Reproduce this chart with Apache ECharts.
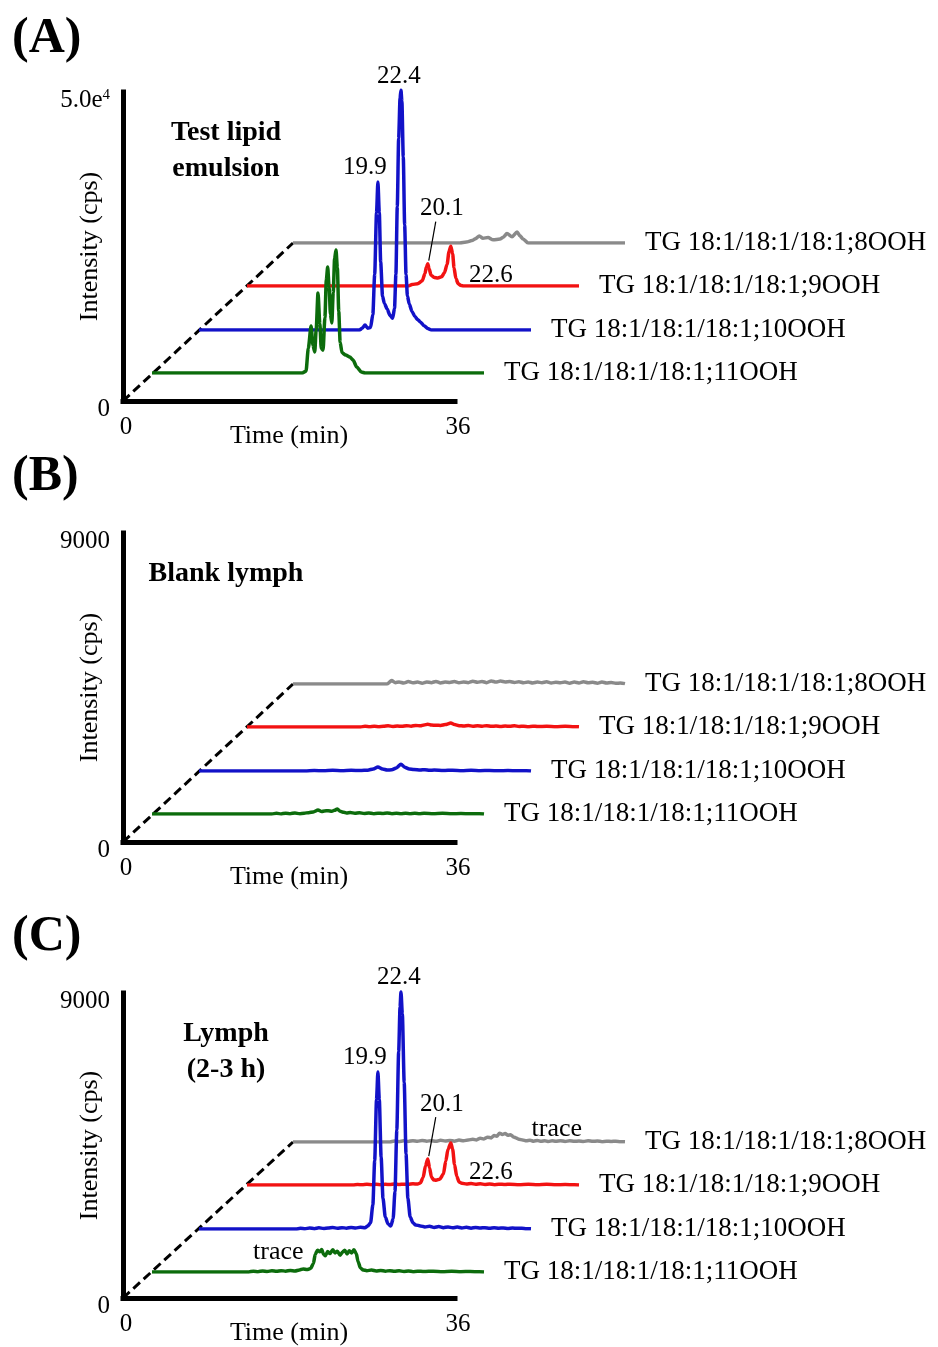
<!DOCTYPE html>
<html>
<head>
<meta charset="utf-8">
<script src="https://cdn.jsdelivr.net/npm/echarts@6/dist/echarts.min.js"></script>
<style>
  html, body { margin: 0; padding: 0; background: #fff; }
  #chart { width: 938px; height: 1347px; }
</style>
</head>
<body>
<div id="chart"></div>
<script>
// ---------------- data ----------------
const traceNames = [
  'TG 18:1/18:1/18:1;11OOH',
  'TG 18:1/18:1/18:1;10OOH',
  'TG 18:1/18:1/18:1;9OOH',
  'TG 18:1/18:1/18:1;8OOH'
];
const panelLetters = ['(A)', '(B)', '(C)'];
const panelTitles = [['Test lipid', 'emulsion'], ['Blank lymph'], ['Lymph', '(2-3 h)']];
const intensityMax = [50000, 9000, 9000];   // cps, top of each intensity axis
const timeTicks = [0, 36];                  // min
const traceWindow = [0.5, 36.5];            // recorded time window of each chromatogram (min)

// Chromatograms: [retention time (min), intensity (cps)]
// (A) Test lipid emulsion
const A_11OOH = [[0.5,0],[16.8,0],[17.2,300],[17.45,4000],[17.75,7600],[17.95,4500],[18.15,3400],[18.3,7000],[18.5,12950],[18.7,8000],[18.85,4000],[19.05,3700],[19.25,9000],[19.4,15000],[19.55,17150],[19.7,14000],[19.85,9500],[20.0,8100],[20.15,13000],[20.3,18500],[20.45,19900],[20.6,17000],[20.75,10000],[20.9,5000],[21.1,3300],[21.5,2900],[21.95,2600],[22.3,2100],[22.7,970],[23.2,160],[23.6,0],[36.5,0]];
const A_10OOH = [[0.5,0],[17.9,0],[18.2,300],[18.5,800],[18.8,300],[19.1,400],[19.35,2500],[19.55,9000],[19.75,19000],[19.9,23950],[20.05,19000],[20.2,11000],[20.4,5500],[20.6,4300],[20.9,3400],[21.2,2400],[21.5,1900],[21.7,3500],[21.85,9000],[22.0,20000],[22.15,31000],[22.3,37500],[22.4,38800],[22.5,37000],[22.65,28000],[22.8,17000],[22.95,9000],[23.1,5500],[23.3,4200],[23.6,3000],[23.9,2200],[24.2,1700],[24.5,1300],[24.9,700],[25.3,250],[25.7,0],[36.5,0]];
const A_9OOH = [[0.5,0],[18.0,0],[18.4,250],[19.0,400],[19.5,900],[19.8,2200],[19.95,3300],[20.1,3900],[20.25,3000],[20.45,1900],[20.8,1500],[21.2,1400],[21.6,1600],[21.9,2300],[22.2,3800],[22.4,6000],[22.6,6950],[22.8,5600],[22.95,3200],[23.15,1300],[23.4,400],[23.7,100],[24.0,0],[36.5,0]];
const A_8OOH = [[0.5,0],[18.6,0],[19.3,200],[19.9,490],[20.3,900],[20.7,1460],[21.1,970],[21.65,1130],[22.2,650],[22.95,810],[23.3,1200],[23.7,1940],[24.25,1290],[24.8,2270],[25.1,1500],[25.45,810],[26.0,0],[36.5,0]];

// (B) Blank lymph
const B_11OOH = [[0.5,0],[13.5,0],[14,20],[14.5,0],[15,25],[15.5,10],[16,30],[16.5,5],[17,25],[17.5,40],[18,60],[18.5,115],[18.9,70],[19.2,90],[19.6,95],[20,80],[20.3,110],[20.6,145],[20.9,80],[21.3,50],[21.6,30],[22,45],[22.5,20],[23,35],[23.5,15],[24,30],[24.5,10],[25,25],[25.5,15],[26,30],[26.5,10],[27,20],[27.5,5],[28,25],[28.5,10],[29,20],[29.5,5],[30,20],[31,10],[32,20],[33,5],[34,15],[35,5],[36,10],[36.5,0]];
const B_10OOH = [[0.5,0],[12,0],[13,15],[14,5],[15,20],[16,10],[17,20],[18,15],[18.8,25],[19.4,60],[19.9,120],[20.4,60],[20.9,30],[21.4,35],[21.9,90],[22.4,200],[22.8,110],[23.3,60],[23.8,45],[24.5,30],[25,40],[25.5,20],[26,30],[27,15],[28,25],[29,10],[30,20],[31,10],[32,15],[33,5],[34,15],[35,5],[36,10],[36.5,0]];
const B_9OOH = [[0.5,0],[12.8,0],[13.3,20],[13.8,5],[14.3,25],[14.8,10],[15.3,20],[15.8,35],[16.3,15],[16.8,30],[17.3,20],[17.8,40],[18.3,25],[18.8,45],[19.3,35],[19.7,60],[20.1,80],[20.5,55],[21,50],[21.5,45],[22,70],[22.6,115],[23,70],[23.5,40],[24,30],[24.5,45],[25,20],[25.5,35],[26,25],[26.5,40],[27,20],[27.5,30],[28,15],[28.5,30],[29,20],[29.5,35],[30,15],[30.5,25],[31,10],[31.5,25],[32,15],[33,20],[34,10],[35,20],[36,10],[36.5,5]];
const B_8OOH = [[0.5,0],[10.7,0],[11.2,100],[11.6,40],[12,60],[12.5,30],[13,70],[13.5,35],[14,55],[14.5,25],[15,60],[15.5,40],[16,75],[16.5,30],[17,55],[17.5,45],[18,70],[18.5,35],[19,60],[19.5,40],[20,80],[20.5,50],[21,75],[21.5,40],[22,90],[22.5,55],[23,85],[23.5,60],[24,70],[24.5,45],[25,65],[25.5,35],[26,60],[26.5,30],[27,55],[27.5,40],[28,65],[28.5,30],[29,50],[29.5,35],[30,60],[30.5,25],[31,55],[31.5,30],[32,65],[32.5,35],[33,50],[33.5,25],[34,60],[34.5,30],[35,45],[35.5,20],[36,30],[36.5,10]];

// (C) Lymph (2-3 h)
const C_11OOH = [[0.5,0],[11,0],[11.5,25],[12,10],[12.5,30],[13,15],[13.5,35],[14,20],[14.5,40],[15,25],[15.5,45],[16,30],[16.5,60],[16.9,90],[17.3,70],[17.7,100],[18.0,250],[18.2,520],[18.45,640],[18.7,590],[18.9,660],[19.1,520],[19.3,480],[19.55,600],[19.8,540],[20.1,650],[20.35,560],[20.6,610],[20.9,490],[21.15,580],[21.4,640],[21.65,530],[21.9,620],[22.15,560],[22.4,650],[22.65,540],[22.85,300],[23.1,120],[23.4,60],[23.8,40],[24.3,55],[24.8,30],[25.3,45],[25.8,25],[26.3,40],[26.8,20],[27.3,35],[27.8,15],[28.3,30],[28.8,10],[29.3,25],[30,15],[31,25],[32,10],[33,20],[34,10],[35,15],[36,5],[36.5,0]];
const C_10OOH = [[0.5,0],[11,0],[11.5,20],[12,5],[12.5,30],[13,10],[13.5,35],[14,15],[14.5,30],[15,45],[15.5,20],[16,40],[16.5,25],[17,45],[17.5,30],[18,50],[18.5,40],[18.8,90],[19.1,180],[19.35,700],[19.55,2000],[19.75,3800],[19.9,4600],[20.05,3800],[20.25,2100],[20.45,900],[20.7,350],[21.0,150],[21.3,90],[21.55,300],[21.75,1100],[21.95,2900],[22.15,5200],[22.3,6500],[22.4,6950],[22.55,6300],[22.75,4300],[22.95,2200],[23.15,900],[23.4,350],[23.7,180],[24.0,120],[24.5,90],[25,60],[25.5,80],[26,45],[26.5,70],[27,40],[27.5,60],[28,35],[28.5,55],[29,30],[29.5,50],[30,25],[30.5,45],[31,30],[31.5,40],[32,20],[32.5,35],[33,25],[33.5,30],[34,15],[34.5,30],[35,20],[35.5,25],[36,10],[36.5,5]];
const C_9OOH = [[0.5,0],[12,0],[12.5,15],[13,5],[13.5,20],[14,10],[14.5,25],[15,10],[15.5,20],[16,15],[16.5,30],[17,15],[17.5,25],[18,20],[18.5,35],[19,30],[19.3,60],[19.6,220],[19.85,560],[20.1,760],[20.3,500],[20.5,230],[20.75,150],[21.0,140],[21.4,170],[21.8,320],[22.05,700],[22.3,1050],[22.6,1230],[22.8,1050],[23.0,600],[23.25,250],[23.5,90],[23.8,50],[24.3,30],[24.8,45],[25.3,20],[25.8,35],[26.3,15],[26.8,30],[27.3,10],[27.8,25],[28.5,15],[29,25],[30,10],[31,20],[32,10],[33,20],[34,5],[35,15],[36,5],[36.5,0]];
const C_8OOH = [[0.5,0],[11,0],[11.5,30],[12,10],[12.5,35],[13,15],[13.5,40],[14,20],[14.5,45],[15,25],[15.5,40],[16,20],[16.5,50],[17,30],[17.5,45],[18,25],[18.5,55],[19,35],[19.5,60],[20,80],[20.4,60],[20.8,110],[21.2,90],[21.6,140],[22,120],[22.3,190],[22.6,170],[22.9,260],[23.2,220],[23.5,250],[23.8,200],[24.1,210],[24.4,150],[24.7,120],[25,80],[25.4,60],[25.8,35],[26.2,50],[26.6,25],[27,45],[27.4,20],[27.8,40],[28.2,15],[28.6,35],[29,20],[29.5,40],[30,15],[30.5,35],[31,20],[31.5,30],[32,15],[32.5,35],[33,20],[33.5,30],[34,10],[34.5,25],[35,15],[35.5,25],[36,10],[36.5,5]];

// Retention-time labels: [panel, trace, time (min)]
const peakLabels = [
  [0, 1, 19.9], [0, 1, 22.4], [0, 2, 20.1], [0, 2, 22.6],
  [2, 1, 19.9], [2, 1, 22.4], [2, 2, 20.1], [2, 2, 22.6]
];
// Free notes on traces: [panel, trace, time (min), text]
const traceNotes = [[2, 3, 29.1, 'trace'], [2, 0, 14.2, 'trace']];

// ---------------- layout & style ----------------
const FONT = '"Liberation Serif", "Times New Roman", Times, serif';
const COLORS = ['#0c6c0c', '#1212c8', '#f21212', '#8a8a8a'];
const layout = {
  axisLeft: 123,
  plotWidth: 332,
  panels: [
    { top: 92,  bottom: 401,  letterY: 39 },
    { top: 533, bottom: 842,  letterY: 477 },
    { top: 993, bottom: 1300, letterY: 937 }
  ],
  layerDx: [29, 76, 124, 170],   // oblique shift of each stacked chromatogram
  layerDy: [28, 71, 115, 158],
  titleX: 226,
  titleDy: 41,
  titleLine: 36
};
// label placement relative to the peak apex (px)
const peakLabelOffset = { '19.9': [-13, -15], '22.4': [-2, -14], '20.1': [14, -55], '22.6': [40, 29] };
const leaderLine = { '20.1': [[1, -3], [8, -42]] };
const noteOffset = { 3: [0, -13], 0: [0, -20] };

const panelTraces = [
  [A_11OOH, A_10OOH, A_9OOH, A_8OOH],
  [B_11OOH, B_10OOH, B_9OOH, B_8OOH],
  [C_11OOH, C_10OOH, C_9OOH, C_8OOH]
];

function fmtIntensity(v) {
  if (v === 0) return '0';
  if (v >= 10000) {
    const e = Math.floor(Math.log10(v));
    return (v / Math.pow(10, e)).toFixed(1) + 'e{sup|' + e + '}';
  }
  return String(v);
}

const grids = [], xAxes = [], yAxes = [], series = [];
panelTraces.forEach((traces, p) => {
  const P = layout.panels[p];
  const h = P.bottom - P.top;
  const M = intensityMax[p];
  // main L-shaped axes
  grids.push({ left: layout.axisLeft, top: P.top, width: layout.plotWidth, height: h });
  let gi = grids.length - 1;
  xAxes.push({
    gridIndex: gi, type: 'value', min: timeTicks[0], max: timeTicks[1],
    interval: timeTicks[1] - timeTicks[0],
    axisLine: { show: true, lineStyle: { color: '#000', width: 5, cap: 'square' } },
    axisTick: { show: false }, splitLine: { show: false },
    axisLabel: { color: '#000', fontFamily: FONT, fontSize: 25, margin: 14, padding: [0, 0, 0, 6] },
    name: 'Time (min)', nameLocation: 'middle', nameGap: 22, nameMoveOverlap: false,
    nameTextStyle: { color: '#000', fontFamily: FONT, fontSize: 26 }
  });
  yAxes.push({
    gridIndex: gi, type: 'value', min: 0, max: M, interval: M,
    axisLine: { show: true, lineStyle: { color: '#000', width: 5, cap: 'square' } },
    axisTick: { show: false }, splitLine: { show: false },
    axisLabel: {
      color: '#000', fontFamily: FONT, fontSize: 25, margin: 13, padding: [16, 0, 0, 0],
      formatter: fmtIntensity,
      rich: { sup: { color: '#000', fontFamily: FONT, fontSize: 15, verticalAlign: 'top' } }
    },
    name: 'Intensity (cps)', nameLocation: 'middle', nameGap: 20, nameMoveOverlap: false,
    nameTextStyle: { color: '#000', fontFamily: FONT, fontSize: 26 }
  });
  // stacked chromatograms, each on its own shifted plane
  traces.forEach((data, k) => {
    grids.push({
      left: layout.axisLeft + layout.layerDx[k], top: P.top - layout.layerDy[k],
      width: layout.plotWidth, height: h
    });
    gi = grids.length - 1;
    xAxes.push({ gridIndex: gi, type: 'value', min: traceWindow[0], max: traceWindow[1], show: false });
    yAxes.push({ gridIndex: gi, type: 'value', min: 0, max: M, show: false });
    series.push({
      type: 'line', name: traceNames[k], xAxisIndex: gi, yAxisIndex: gi, data,
      showSymbol: false, symbol: 'none', silent: true, z: 10 - k,
      smooth: 0.25, smoothMonotone: 'x',
      lineStyle: { color: COLORS[k], width: 3.5, join: 'round' }, itemStyle: { color: COLORS[k] },
      endLabel: {
        show: true, formatter: () => traceNames[k], distance: 20,
        color: '#000', fontFamily: FONT, fontSize: 27
      }
    });
  });
});

const chart = echarts.init(document.getElementById('chart'), null, { renderer: 'canvas' });
chart.setOption({ backgroundColor: '#fff', animation: false, grid: grids, xAxis: xAxes, yAxis: yAxes, series });

// ---------------- annotations ----------------
const gridOf = (p, k) => p * 5 + 1 + k;
const toPx = (gi, t, v) => chart.convertToPixel({ gridIndex: gi }, [t, v]);
const valueAt = (data, t) => data.find(d => d[0] === t)[1];
const txt = (x, y, text, font, align) => ({
  type: 'text', x, y, z: 50, silent: true,
  style: { text, font, fill: '#000', align: align || 'center', verticalAlign: 'middle' }
});

const graphics = [];
layout.panels.forEach((P, p) => {
  graphics.push(txt(12, P.letterY, panelLetters[p], 'bold 50px ' + FONT, 'left'));
  panelTitles[p].forEach((line, i) =>
    graphics.push(txt(layout.titleX, P.top + layout.titleDy + i * layout.titleLine, line, 'bold 28px ' + FONT)));
  const o = toPx(p * 5, 0, 0);
  const e = toPx(gridOf(p, 3), traceWindow[0], 0);
  graphics.push({
    type: 'line', z: 5, silent: true,
    shape: { x1: o[0], y1: o[1], x2: e[0], y2: e[1] },
    style: { stroke: '#000', lineWidth: 3, lineDash: [9, 5] }
  });
});

peakLabels.forEach(([p, k, t]) => {
  const key = t.toFixed(1);
  const apex = toPx(gridOf(p, k), t, valueAt(panelTraces[p][k], t));
  const off = peakLabelOffset[key];
  graphics.push(txt(apex[0] + off[0], apex[1] + off[1], key, '25px ' + FONT));
  if (leaderLine[key]) {
    const [a, b] = leaderLine[key];
    graphics.push({
      type: 'line', z: 50, silent: true,
      shape: { x1: apex[0] + a[0], y1: apex[1] + a[1], x2: apex[0] + b[0], y2: apex[1] + b[1] },
      style: { stroke: '#000', lineWidth: 1.2 }
    });
  }
});

traceNotes.forEach(([p, k, t, text]) => {
  const pt = toPx(gridOf(p, k), t, 0);
  const off = noteOffset[k];
  graphics.push(txt(pt[0] + off[0], pt[1] + off[1], text, '26px ' + FONT));
});

chart.setOption({ graphic: graphics });
</script>
</body>
</html>
